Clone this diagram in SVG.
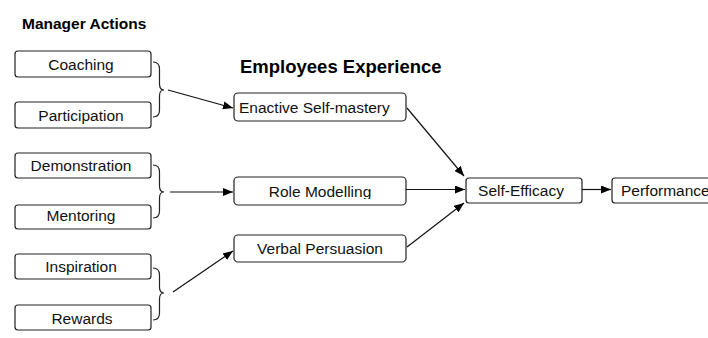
<svg xmlns="http://www.w3.org/2000/svg" width="708" height="338" viewBox="0 0 708 338">
<style>
.box{fill:#fff;stroke:#222;stroke-width:1.2}
.t{font-family:"Liberation Sans",Arial,sans-serif;font-size:15.5px;fill:#111}
.c{text-anchor:middle}
.h{font-family:"Liberation Sans",Arial,sans-serif;font-weight:bold;fill:#000}
.br{fill:none;stroke:#222;stroke-width:1.2}
.ln{fill:none;stroke:#111;stroke-width:1.2}
</style>
<defs>
<marker id="ah" viewBox="0 0 10 8" refX="10" refY="4" markerWidth="10" markerHeight="8" markerUnits="userSpaceOnUse" orient="auto">
<path d="M0,0 L10,4 L0,8 Z" fill="#000"/>
</marker>
<clipPath id="rmclip"><rect x="234" y="177" width="172" height="22"/></clipPath>
</defs>
<rect width="708" height="338" fill="#fff"/>
<text class="h" x="22" y="29" font-size="15.5">Manager Actions</text>
<text class="h" x="240" y="73" font-size="18.5">Employees Experience</text>

<g id="coaching"><rect class="box" x="15" y="51" width="136" height="26" rx="3"/><text class="t c" x="81" y="70">Coaching</text></g>
<g id="participation"><rect class="box" x="15" y="102" width="136" height="26" rx="3"/><text class="t c" x="81" y="121">Participation</text></g>
<g id="demonstration"><rect class="box" x="15" y="153" width="136" height="25" rx="3"/><text class="t c" x="81" y="171">Demonstration</text></g>
<g id="mentoring"><rect class="box" x="15" y="205" width="136" height="24" rx="3"/><text class="t c" x="81" y="221">Mentoring</text></g>
<g id="inspiration"><rect class="box" x="15" y="254" width="136" height="25" rx="3"/><text class="t c" x="81" y="272">Inspiration</text></g>
<g id="rewards"><rect class="box" x="15" y="305" width="136" height="25" rx="3"/><text class="t c" x="82" y="324">Rewards</text></g>

<g id="enactive"><rect class="box" x="234" y="93" width="172" height="28" rx="4"/><text class="t" x="239" y="112.5">Enactive Self-mastery</text></g>
<g id="role-modelling"><rect class="box" x="234" y="177" width="172" height="28" rx="4"/><text class="t c" x="320" y="197" clip-path="url(#rmclip)">Role Modelling</text></g>
<g id="verbal"><rect class="box" x="234" y="235" width="172" height="27" rx="4"/><text class="t c" x="320" y="254">Verbal Persuasion</text></g>
<g id="self-efficacy"><rect class="box" x="466" y="178" width="116" height="25" rx="3"/><text class="t c" x="521" y="195.5">Self-Efficacy</text></g>
<g id="performance"><rect class="box" x="612" y="178" width="120" height="25" rx="3"/><text class="t" x="621" y="195.5">Performance</text></g>

<g id="braces">
<path class="br" d="M153,62 Q159.5,62 159.5,69 L159.5,84 Q159.5,90 164,90 Q159.5,90 159.5,96 L159.5,110 Q159.5,117 153,117"/>
<path class="br" d="M153,165 Q159.5,165 159.5,172 L159.5,186 Q159.5,192 164,192 Q159.5,192 159.5,198 L159.5,211 Q159.5,218 153,218"/>
<path class="br" d="M153,268 Q159.5,268 159.5,275 L159.5,287 Q159.5,293 164,293 Q159.5,293 159.5,299 L159.5,313 Q159.5,320 153,320"/>
</g>

<g id="connectors">
<line class="ln" x1="168" y1="90" x2="233" y2="108" marker-end="url(#ah)"/>
<line class="ln" x1="170" y1="192" x2="233" y2="192" marker-end="url(#ah)"/>
<line class="ln" x1="173" y1="292" x2="233" y2="251" marker-end="url(#ah)"/>
<line class="ln" x1="407" y1="108" x2="464" y2="176" marker-end="url(#ah)"/>
<line class="ln" x1="406" y1="189.5" x2="465" y2="189.5" marker-end="url(#ah)"/>
<line class="ln" x1="407" y1="247" x2="464" y2="203" marker-end="url(#ah)"/>
<line class="ln" x1="582" y1="189.5" x2="611" y2="189.5" marker-end="url(#ah)"/>
</g>
</svg>
